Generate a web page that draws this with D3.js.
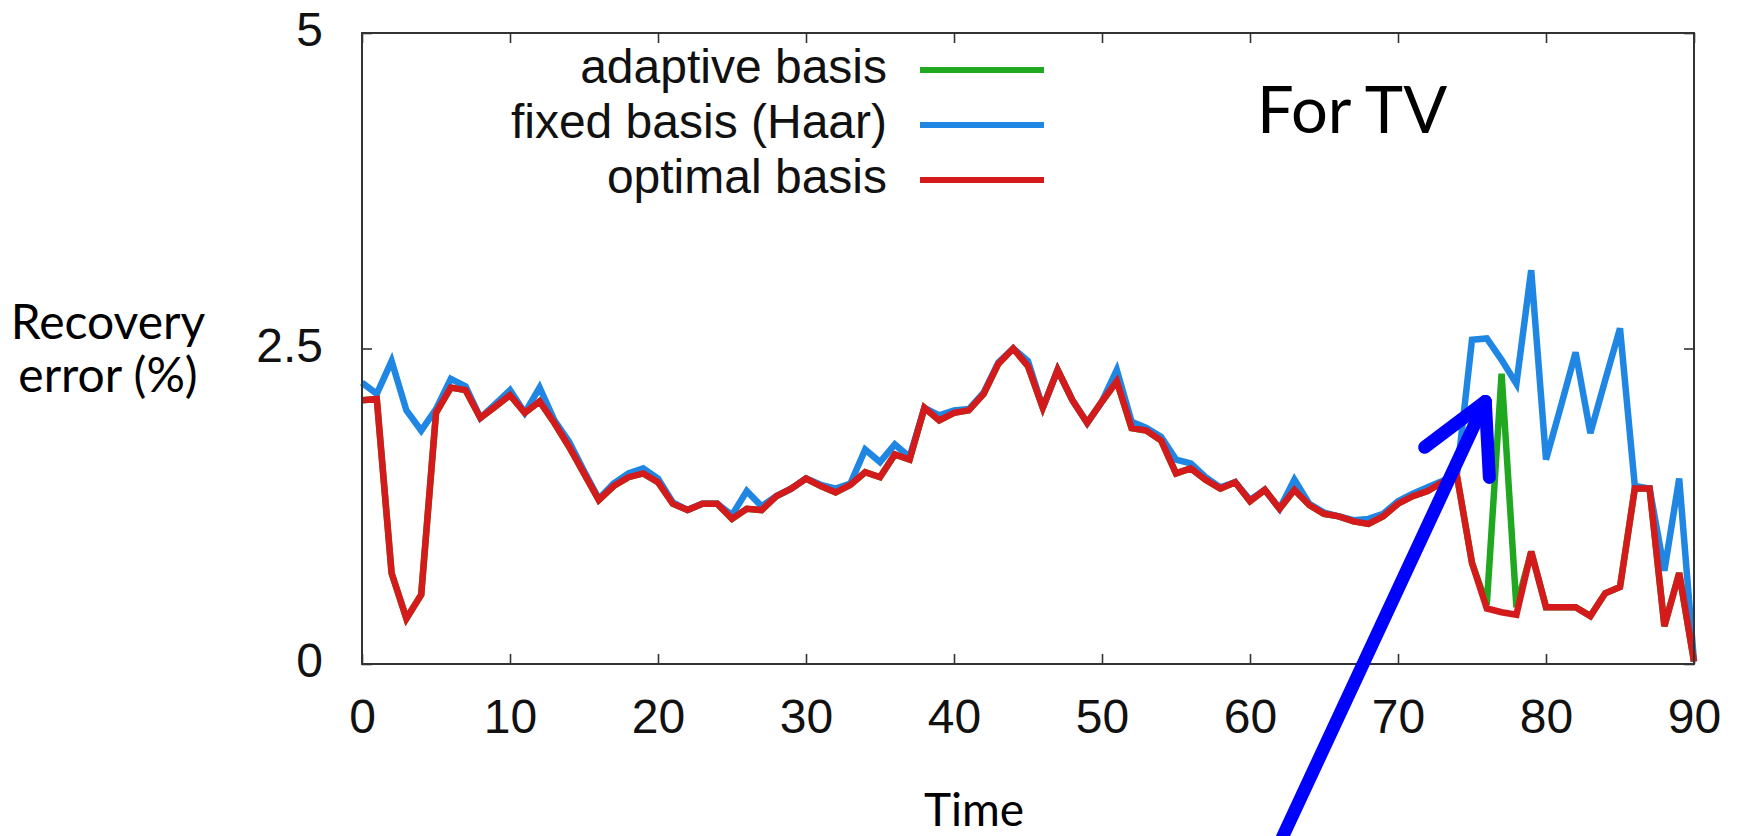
<!DOCTYPE html>
<html>
<head>
<meta charset="utf-8">
<script src="https://cdn.jsdelivr.net/npm/d3@7"></script>
<style>
  html, body { margin: 0; padding: 0; background: #ffffff; }
  svg { display: block; }
</style>
</head>
<body>
<svg id="chart" width="1738" height="836"></svg>
<script>
// Time steps
const times = [
  0, 1, 2, 3, 4, 5, 6, 7, 8, 9,
  10, 11, 12, 13, 14, 15, 16, 17, 18, 19,
  20, 21, 22, 23, 24, 25, 26, 27, 28, 29,
  30, 31, 32, 33, 34, 35, 36, 37, 38, 39,
  40, 41, 42, 43, 44, 45, 46, 47, 48, 49,
  50, 51, 52, 53, 54, 55, 56, 57, 58, 59,
  60, 61, 62, 63, 64, 65, 66, 67, 68, 69,
  70, 71, 72, 73, 74, 75, 76, 77, 78, 79,
  80, 81, 82, 83, 84, 85, 86, 87, 88, 89,
  90
];

// Recovery error (%) per time step
const adaptiveBasis = [
  2.09, 2.10, 0.72, 0.36, 0.55, 1.99, 2.19, 2.17, 1.95, 2.04,
  2.13, 1.99, 2.08, 1.91, 1.72, 1.51, 1.30, 1.41, 1.48, 1.51,
  1.44, 1.27, 1.22, 1.27, 1.27, 1.15, 1.23, 1.22, 1.33, 1.39,
  1.47, 1.41, 1.36, 1.42, 1.52, 1.48, 1.66, 1.62, 2.03, 1.93,
  1.99, 2.01, 2.14, 2.38, 2.50, 2.36, 2.03, 2.33, 2.09, 1.91,
  2.08, 2.24, 1.87, 1.85, 1.77, 1.51, 1.55, 1.46, 1.39, 1.44,
  1.29, 1.38, 1.23, 1.38, 1.26, 1.19, 1.17, 1.13, 1.11, 1.17,
  1.27, 1.33, 1.37, 1.44, 1.48, 0.80, 0.47, 2.30, 0.45, 0.89,
  0.45, 0.45, 0.45, 0.38, 0.56, 0.61, 1.39, 1.39, 0.30, 0.72,
  0.02
];

const fixedBasisHaar = [
  2.23, 2.14, 2.40, 2.01, 1.85, 2.02, 2.26, 2.20, 1.95, 2.06,
  2.17, 1.99, 2.19, 1.93, 1.76, 1.53, 1.31, 1.43, 1.51, 1.55,
  1.47, 1.28, 1.22, 1.27, 1.27, 1.18, 1.37, 1.25, 1.33, 1.39,
  1.47, 1.42, 1.39, 1.43, 1.70, 1.60, 1.74, 1.64, 2.03, 1.97,
  2.01, 2.02, 2.15, 2.39, 2.50, 2.40, 2.03, 2.33, 2.09, 1.91,
  2.08, 2.33, 1.92, 1.87, 1.80, 1.62, 1.59, 1.48, 1.40, 1.44,
  1.30, 1.38, 1.23, 1.46, 1.27, 1.20, 1.17, 1.14, 1.15, 1.19,
  1.29, 1.35, 1.40, 1.45, 1.52, 2.57, 2.58, 2.41, 2.22, 3.12,
  1.62, 2.04, 2.47, 1.83, 2.25, 2.66, 1.41, 1.39, 0.74, 1.47,
  0.02
];

const optimalBasis = [
  2.09, 2.10, 0.72, 0.36, 0.55, 1.99, 2.19, 2.17, 1.95, 2.04,
  2.13, 1.99, 2.08, 1.91, 1.72, 1.51, 1.30, 1.41, 1.48, 1.51,
  1.44, 1.27, 1.22, 1.27, 1.27, 1.15, 1.23, 1.22, 1.33, 1.39,
  1.47, 1.41, 1.36, 1.42, 1.52, 1.48, 1.66, 1.62, 2.03, 1.93,
  1.99, 2.01, 2.14, 2.38, 2.50, 2.36, 2.03, 2.33, 2.09, 1.91,
  2.08, 2.24, 1.87, 1.85, 1.77, 1.51, 1.55, 1.46, 1.39, 1.44,
  1.29, 1.38, 1.23, 1.38, 1.26, 1.19, 1.17, 1.13, 1.11, 1.17,
  1.27, 1.33, 1.37, 1.44, 1.48, 0.80, 0.44, 0.41, 0.39, 0.89,
  0.45, 0.45, 0.45, 0.38, 0.56, 0.61, 1.39, 1.39, 0.30, 0.72,
  0.02
];

const seriesNames = ["adaptive basis", "fixed basis (Haar)", "optimal basis"];
const seriesColors = ["#20a820", "#1f86e4", "#d41a1a"];

const xTickValues = [0, 10, 20, 30, 40, 50, 60, 70, 80, 90];
const yTickValues = [0, 2.5, 5];
const yTickLabels = ["0", "2.5", "5"];

// Arrow callout, in data units: tail below the axis, tip at the adaptive spike
const arrowTail = { t: 62.2, v: -1.37 };
const arrowTip = { t: 75.9, v: 2.08 };

// ---------------------------------------------------------------
const svg = d3.select("#chart");
const W = 1738, H = 836;
const plot = { left: 362, right: 1694, top: 33, bottom: 664 };

svg.append("rect").attr("width", W).attr("height", H).attr("fill", "#ffffff");

const x = d3.scaleLinear().domain([0, 90]).range([plot.left, plot.right]);
const y = d3.scaleLinear().domain([0, 5]).range([plot.bottom, plot.top]);

const tickFont = "'Liberation Sans', Arial, Helvetica, sans-serif";
const noteFont = "Lato, 'Open Sans', sans-serif";
const frameColor = "#333333";

// Axes with inward ticks on all four sides
const gBottom = svg.append("g").attr("transform", `translate(0,${plot.bottom})`)
  .call(d3.axisBottom(x).tickValues(xTickValues).tickFormat(d3.format("d"))
    .tickSizeInner(-10).tickSizeOuter(0));
const gTop = svg.append("g").attr("transform", `translate(0,${plot.top})`)
  .call(d3.axisTop(x).tickValues(xTickValues).tickFormat("")
    .tickSizeInner(-10).tickSizeOuter(0));
const gLeft = svg.append("g").attr("transform", `translate(${plot.left},0)`)
  .call(d3.axisLeft(y).tickValues(yTickValues).tickFormat((d, i) => yTickLabels[i])
    .tickSizeInner(-10).tickSizeOuter(0));
const gRight = svg.append("g").attr("transform", `translate(${plot.right},0)`)
  .call(d3.axisRight(y).tickValues(yTickValues).tickFormat("")
    .tickSizeInner(-10).tickSizeOuter(0));

[gBottom, gTop, gLeft, gRight].forEach(g => {
  g.select(".domain").remove();
  g.selectAll(".tick line").attr("stroke", frameColor).attr("stroke-width", 1.6);
});

gBottom.selectAll(".tick text")
  .attr("y", 69).attr("dy", 0)
  .attr("font-family", tickFont).attr("font-size", 48).attr("fill", "#111");
gLeft.selectAll(".tick text")
  .attr("x", -39).attr("dy", "0.35em").attr("y", -4)
  .attr("font-family", tickFont).attr("font-size", 48).attr("fill", "#111");

// Series lines
const line = d3.line()
  .x((d, i) => x(times[i]))
  .y(d => y(d));

const seriesData = [adaptiveBasis, fixedBasisHaar, optimalBasis];
seriesData.forEach((vals, k) => {
  svg.append("path")
    .datum(vals)
    .attr("d", line)
    .attr("fill", "none")
    .attr("stroke", seriesColors[k])
    .attr("stroke-width", 6.5)
    .attr("stroke-linejoin", "miter")
    .attr("stroke-miterlimit", 3);
});

// Plot frame
svg.append("rect")
  .attr("x", plot.left).attr("y", plot.top)
  .attr("width", plot.right - plot.left).attr("height", plot.bottom - plot.top)
  .attr("fill", "none").attr("stroke", frameColor).attr("stroke-width", 2);

// Legend
const legend = svg.append("g");
seriesNames.forEach((name, k) => {
  const base = 83 + k * 55;
  legend.append("text")
    .attr("x", 887).attr("y", base)
    .attr("text-anchor", "end")
    .attr("font-family", tickFont).attr("font-size", 48).attr("fill", "#111")
    .text(name);
  legend.append("line")
    .attr("x1", 920).attr("x2", 1044)
    .attr("y1", base - 13).attr("y2", base - 13)
    .attr("stroke", seriesColors[k]).attr("stroke-width", 6);
});

// Annotations
svg.append("text")
  .attr("x", 1257).attr("y", 133)
  .attr("font-family", noteFont).attr("font-size", 65).attr("fill", "#000")
  .text("For TV");

const yLabel = svg.append("text")
  .attr("font-family", noteFont).attr("font-size", 48).attr("fill", "#000")
  .attr("text-anchor", "middle");
yLabel.append("tspan").attr("x", 108).attr("y", 339).text("Recovery");
yLabel.append("tspan").attr("x", 108).attr("y", 392).text("error (%)");

svg.append("text")
  .attr("x", 974).attr("y", 826)
  .attr("text-anchor", "middle")
  .attr("font-family", noteFont).attr("font-size", 46).attr("fill", "#000")
  .text("Time");

// Arrow pointing at the adaptive-basis spike
const tipX = x(arrowTip.t), tipY = y(arrowTip.v);
const tailX = x(arrowTail.t), tailY = y(arrowTail.v);
const back = Math.atan2(tailY - tipY, tailX - tipX);
const headLen = 76, spread = 28 * Math.PI / 180;
const arrow = svg.append("g")
  .attr("stroke", "#0000ff").attr("stroke-width", 13)
  .attr("stroke-linecap", "round").attr("fill", "none");
arrow.append("line")
  .attr("x1", tailX).attr("y1", tailY).attr("x2", tipX).attr("y2", tipY);
[-1, 1].forEach(s => {
  const a = back + s * spread;
  arrow.append("line")
    .attr("x1", tipX).attr("y1", tipY)
    .attr("x2", tipX + headLen * Math.cos(a))
    .attr("y2", tipY + headLen * Math.sin(a));
});
</script>
</body>
</html>
